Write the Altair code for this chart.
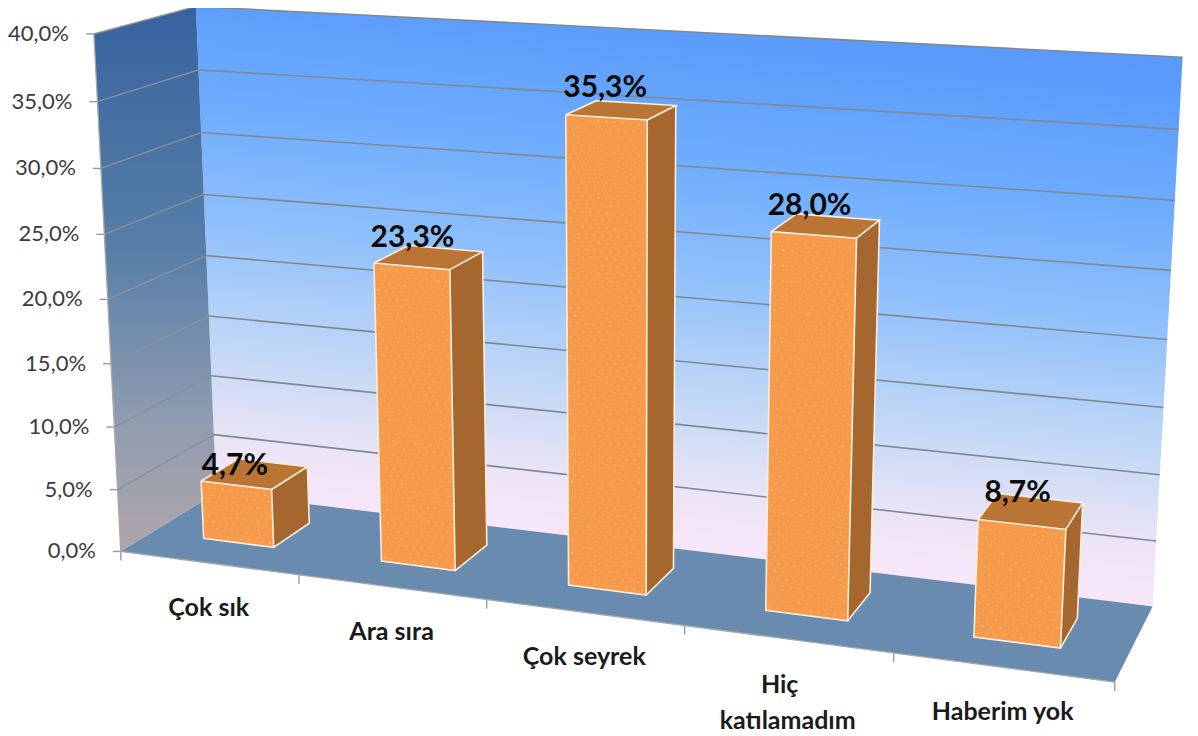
import numpy as np
import pandas as pd
import altair as alt

# ---- chart values ----
categories = ["Çok sık", "Ara sıra", "Çok seyrek", "Hiç katılamadım", "Haberim yok"]
values = [4.7, 23.3, 35.3, 28.0, 8.7]
value_labels = ["4,7%", "23,3%", "35,3%", "28,0%", "8,7%"]
axis_ticks = [0, 5, 10, 15, 20, 25, 30, 35, 40]
axis_labels = ["0,0%", "5,0%", "10,0%", "15,0%", "20,0%", "25,0%", "30,0%", "35,0%", "40,0%"]

# ---- 3D camera: world (category position, depth, value) -> page pixels ----
calib = [
    ((0, 0, 0), (122, 551)), ((1, 0, 0), (299, 575)), ((2, 0, 0), (487, 600)),
    ((3, 0, 0), (684, 626)), ((4, 0, 0), (893, 654)), ((5, 0, 0), (1115, 682)),
    ((0, 1, 0), (215, 494)), ((5, 1, 0), (1153, 605)),
    ((0, 0, 40), (93, 34)), ((0, 0, 20), (108, 298)),
    ((0, 1, 40), (196, 7)), ((0, 1, 20), (207, 255)),
    ((5, 1, 40), (1183, 58)), ((5, 1, 20), (1167, 339)),
]
A = []
b = []
for (X, Y, Z), (px, py) in calib:
    A.append([X, Y, Z, 1, 0, 0, 0, 0, -px * X, -px * Y, -px * Z])
    b.append(px)
    A.append([0, 0, 0, 0, X, Y, Z, 1, -py * X, -py * Y, -py * Z])
    b.append(py)
m = np.linalg.lstsq(np.array(A, float), np.array(b, float), rcond=None)[0]
M = np.append(m, 1.0).reshape(3, 4)


def P(u, w, v):
    h = M @ np.array([u, w, v, 1.0])
    return float(h[0] / h[2]), float(h[1] / h[2])


def area_rows(poly, key):
    """Turn a convex polygon into x / y / y2 rows for an area mark."""
    rows = []
    n = len(poly)
    for x in sorted({p[0] for p in poly}):
        ys = []
        for i in range(n):
            (x0, y0), (x1, y1) = poly[i], poly[(i + 1) % n]
            if min(x0, x1) <= x <= max(x0, x1):
                if x0 == x1:
                    ys += [y0, y1]
                else:
                    ys.append(y0 + (y1 - y0) * (x - x0) / (x1 - x0))
        rows.append({"x": x, "y": min(ys), "y2": max(ys), "k": key})
    return rows


def line_rows(pts, key):
    return [{"x": p[0], "y": p[1], "k": key, "o": i} for i, p in enumerate(pts)]


X_S = alt.Scale(domain=[8, 1190], nice=False, zero=False)
Y_S = alt.Scale(domain=[734, 8], nice=False, zero=False)
ex = alt.X("x:Q", scale=X_S, axis=None)
ey = alt.Y("y:Q", scale=Y_S, axis=None)


def area(rows, fill):
    return alt.Chart(pd.DataFrame(rows)).mark_area(fill=fill, stroke=None, interpolate="linear", opacity=1).encode(
        x=ex, y=ey, y2="y2:Q", detail="k:N")


def lines(rows, color, width, opacity=1.0):
    return alt.Chart(pd.DataFrame(rows)).mark_line(color=color, strokeWidth=width, opacity=opacity).encode(
        x=ex, y=ey, detail="k:N", order="o:Q")


def grad(stops, x1, y1, x2, y2):
    return alt.Gradient(gradient="linear", x1=x1, y1=y1, x2=x2, y2=y2,
                        stops=[alt.GradientStop(offset=o, color=c) for o, c in stops])


UM, VM = 5, 40
layers = []
# walls and floor
back = [P(0, 1, VM), P(UM, 1, VM), P(UM, 1, 0), P(0, 1, 0)]
left = [P(0, 0, VM), P(0, 1, VM), P(0, 1, 0), P(0, 0, 0)]
floor = [P(0, 0, 0), P(0, 1, 0), P(UM, 1, 0), P(UM, 0, 0)]
layers.append(area(area_rows(back, "b"), grad(
    [(0.03, "#5899fb"), (0.25, "#6cabfd"), (0.45, "#90c0fb"), (0.65, "#c2d8f6"), (0.8, "#ebe4f6"), (0.92, "#fce7fa")],
    0.59, 0, 0.41, 1)))
layers.append(area(area_rows(left, "l"), grad(
    [(0, "#37629f"), (0.45, "#587fa8"), (0.75, "#8e9bb0"), (1, "#b0a6ac")], 0.5, 0, 0.5, 1)))
layers.append(area(area_rows(floor, "f"), "#6a8bb0"))

# gridlines, wall edges, ticks
grid_b, grid_l, ticks = [], [], []
for t in axis_ticks:
    if t > 0:
        grid_b += line_rows([P(0, 1, t), P(UM, 1, t)], f"b{t}")
        grid_l += line_rows([P(0, 0, t), P(0, 1, t)], f"l{t}")
    fx, fy = P(0, 0, t)
    ticks += line_rows([(fx - 8, fy), (fx, fy)], f"t{t}")
layers.append(lines(grid_b, "#7f8994", 1.6))
layers.append(lines(grid_l, "#8b9098", 1.4))
edge = line_rows([P(0, 0, 40), P(0, 0, 0), P(UM, 0, 0)], "e")
layers.append(lines(edge, "#a8a8a8", 1.3))
for u in range(UM + 1):
    fx, fy = P(u, 0, 0)
    ticks += line_rows([(fx, fy), (fx, fy + 9)], f"u{u}")
layers.append(lines(ticks, "#9a9a9a", 1.4))

# bars
HALF, W0, W1, SHIFT = 0.2, 0.32, 0.72, -0.004
front_r, top_r, side_r, out_r, dots = [], [], [], [], []
for i, v in enumerate(values):
    c = i + 0.5 + SHIFT
    u0, u1 = c - HALF, c + HALF
    f = [P(u0, W0, v), P(u1, W0, v), P(u1, W0, 0), P(u0, W0, 0)]
    t = [P(u0, W0, v), P(u0, W1, v), P(u1, W1, v), P(u1, W0, v)]
    s = [P(u1, W0, v), P(u1, W1, v), P(u1, W1, 0), P(u1, W0, 0)]
    front_r += area_rows(f, f"f{i}")
    top_r += area_rows(t, f"t{i}")
    side_r += area_rows(s, f"s{i}")
    out_r += line_rows(f + [f[0]], f"of{i}") + line_rows([t[0], t[1], t[2], t[3]], f"ot{i}")
    out_r += line_rows([s[1], s[2], s[3]], f"os{i}")
    # the dotted texture of the front face
    for r, z in enumerate(np.arange(0.35, v - 0.2, 0.55)):
        for du in np.arange(0.02 + (r % 2) * 0.02, 2 * HALF - 0.01, 0.04):
            x, y = P(u0 + du, W0, float(z))
            dots.append({"x": x, "y": y})
layers.append(area(side_r, "#a5672f"))
layers.append(area(top_r, "#ba7434"))
layers.append(area(front_r, "#f69a4b"))
layers.append(alt.Chart(pd.DataFrame(dots)).mark_circle(size=3, color="#fcc48e", opacity=0.7).encode(x=ex, y=ey))
layers.append(lines(out_r, "#fbeedc", 1.6))

# texts
val_nudge = [(-2, -19), (0, -28), (-2, -29), (-5, -29), (-5, -32)]
val_rows = []
for i, v in enumerate(values):
    x, y = P(i + 0.5, W0, v)
    val_rows.append({"x": x + val_nudge[i][0], "y": y + val_nudge[i][1], "t": value_labels[i]})
layers.append(alt.Chart(pd.DataFrame(val_rows)).mark_text(
    font="Lato", fontSize=30, fontWeight="bold", color="#0a0a0a", align="center", baseline="middle"
).encode(x=ex, y=ey, text="t:N"))

tick_rows = []
for t, lab in zip(axis_ticks, axis_labels):
    x, y = P(0, 0, t)
    tick_rows.append({"x": x - 25, "y": y, "t": lab})
layers.append(alt.Chart(pd.DataFrame(tick_rows)).mark_text(
    font="Lato", fontSize=22, color="#3c3c3c", align="right", baseline="middle"
).encode(x=ex, y=ey, text="t:N"))

cat_rows = []
for i, name in enumerate(categories):
    x, y = P(i + 0.5, 0, 0)
    if name == "Hiç katılamadım":
        a, c2 = name.split(" ")
        cat_rows.append({"x": x - 8, "y": y + 46, "t": a})
        cat_rows.append({"x": x, "y": y + 82, "t": c2})
    else:
        cat_rows.append({"x": x, "y": y + 45, "t": name})
layers.append(alt.Chart(pd.DataFrame(cat_rows)).mark_text(
    font="Lato", fontSize=25, fontWeight="bold", color="#1a1a1a", align="center", baseline="middle"
).encode(x=ex, y=ey, text="t:N"))

chart = alt.layer(*layers).properties(
    width=1182, height=726, padding=0, autosize=alt.AutoSizeParams(type="none"), background="white"
).configure_view(stroke=None)
chart.save("out.html", embed_options={"renderer": "svg", "actions": False})
